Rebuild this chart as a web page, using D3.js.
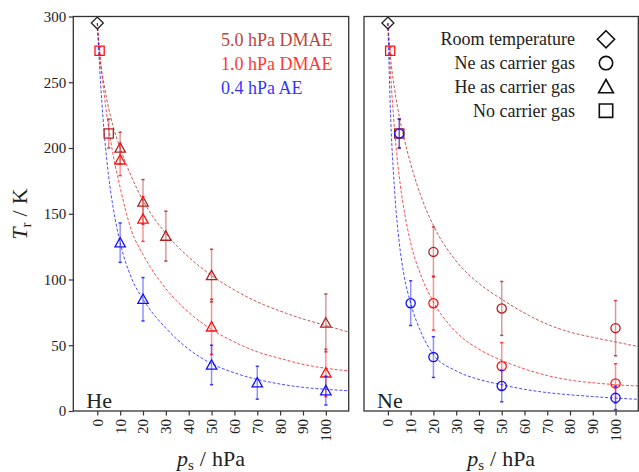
<!DOCTYPE html>
<html>
<head>
<meta charset="utf-8">
<script src="https://cdn.jsdelivr.net/npm/d3@7"></script>
<style>
body { margin: 0; background: #fff; }
text { font-family: "Liberation Serif", "DejaVu Serif", serif; fill: #222; }
</style>
</head>
<body>
<script>
// ---- data ----
// room temperature (both panels)
var roomP = [0];
var roomT = [295];

// no carrier gas (both panels)
var noCarrierP = [1, 5];
var noCarrierT = [274, 211];
var noCarrierE = [3, 11];

// He as carrier gas
var heP_5DMAE = [10, 20, 30, 50, 100];
var heT_5DMAE = [200, 159, 133, 103, 67];
var heE_5DMAE = [12, 17, 19, 20, 22];
var heP_1DMAE = [10, 20, 50, 100];
var heT_1DMAE = [191, 146, 64, 29];
var heE_1DMAE = [12, 17, 21, 18];
var heP_AE = [10, 20, 50, 70, 100];
var heT_AE = [128, 85, 35, 21.5, 15.5];
var heE_AE = [15, 16.5, 15, 12.5, 11];

// Ne as carrier gas
var neP_5DMAE = [20, 50, 100];
var neT_5DMAE = [121, 78, 63];
var neE_5DMAE = [19, 20.5, 21];
var neP_1DMAE = [20, 50, 100];
var neT_1DMAE = [82, 34, 21];
var neE_1DMAE = [20.5, 18, 15];
var neP_AE = [5, 10, 20, 50, 100];
var neT_AE = [211, 82, 41, 19, 10];
var neE_AE = [11, 17, 15.5, 12, 9];

// fitted curves (dashed)
var fitP = [0, 1, 3, 5, 7, 10, 15, 20, 30, 40, 50, 60, 70, 80, 90, 100, 110];
var heFit_5DMAE = [295, 271, 248, 230, 216, 200, 178, 160, 135, 117, 103, 92, 83, 76, 70, 65, 60];
var heFit_1DMAE = [295, 274, 241, 215, 194, 170, 137, 119, 93, 75, 62, 52.5, 45, 40, 35.5, 32.5, 30.5];
var heFit_AE = [295, 262, 212, 178, 154, 128, 101, 85, 63, 47, 36, 29, 24, 20.5, 18, 16.5, 15.4];
var neFit_5DMAE = [295, 272, 244, 224, 208, 188, 161, 141, 114, 97, 85, 74.5, 66, 60, 56, 52.5, 49];
var neFit_1DMAE = [295, 262, 212, 178, 154, 128, 101, 83, 60, 47, 38.5, 32, 27, 23.5, 21.5, 20, 19];
var neFit_AE = [295, 234, 166, 128, 104, 82, 58, 43, 30.5, 24, 20, 16.5, 14, 12.3, 11, 9.8, 8.9];

var xTicks = [0, 10, 20, 30, 40, 50, 60, 70, 80, 90, 100];
var yTicks = [0, 50, 100, 150, 200, 250, 300];

var seriesNames = ["5.0 hPa DMAE", "1.0 hPa DMAE", "0.4 hPa AE"];
var legendNames = ["Room temperature", "Ne as carrier gas", "He as carrier gas", "No carrier gas"];
var legendShapes = ["diamond", "circle", "triangle", "square"];

// ---- styles ----
var colors = { darkred: "#b22222", red: "#ff1010", blue: "#1010ff", black: "#222" };
var W = 639, H = 472;
var plotTop = 16.5, plotBottom = 411;

function markerPath(shape, s) {
	if (shape == "circle")
		return "M" + s + ",0A" + s + "," + s + " 0 1,1 " + (-s) + ",0A" + s + "," + s + " 0 1,1 " + s + ",0Z";
	if (shape == "square")
		return "M" + (-s) + "," + (-s) + "H" + s + "V" + s + "H" + (-s) + "Z";
	if (shape == "triangle")
		return "M0," + (-s) + "L" + s + "," + (s * 0.8) + "L" + (-s) + "," + (s * 0.8) + "Z";
	return "M0," + (-s) + "L" + s + ",0L0," + s + "L" + (-s) + ",0Z";
}
var markerSize = { circle: 4.6, square: 4.6, triangle: 5.2, diamond: 6 };

var svg = d3.select("body")
	.append("svg")
	.attr("width", W)
	.attr("height", H);

var y = d3.scaleLinear().domain([0, 300]).range([plotBottom, plotTop]);

function pts(P, T, E) {
	return P.map(function (p, i) { return { p: p, t: T[i], e: E ? E[i] : 0 }; });
}

function drawPanel(x0, x1, label, groups, fits, id) {
	var x = d3.scaleLinear().domain([-10.5, 110]).range([x0, x1]);
	var g = svg.append("g");

	svg.append("clipPath").attr("id", "clip" + id)
		.append("rect")
		.attr("x", x0).attr("y", plotTop)
		.attr("width", x1 - x0).attr("height", plotBottom - plotTop);

	// fitted curves
	var line = d3.line()
		.x(function (d) { return x(d.p); })
		.y(function (d) { return y(d.t); })
		.curve(d3.curveMonotoneX);
	g.append("g")
		.attr("clip-path", "url(#clip" + id + ")")
		.selectAll("path")
		.data(fits)
		.enter()
		.append("path")
		.attr("d", function (d) { return line(pts(fitP, d.T)); })
		.attr("fill", "none")
		.attr("stroke", function (d) { return colors[d.c]; })
		.attr("stroke-width", 1)
		.attr("stroke-dasharray", "3,1.8")
		.attr("opacity", 0.75);

	// error bars + markers
	groups.forEach(function (s) {
		var data = pts(s.P, s.T, s.E);
		var sg = g.append("g");
		sg.selectAll("line.err")
			.data(data)
			.enter()
			.append("line")
			.attr("class", "err")
			.attr("x1", function (d) { return x(d.p); })
			.attr("x2", function (d) { return x(d.p); })
			.attr("y1", function (d) { return y(d.t - d.e); })
			.attr("y2", function (d) { return y(d.t + d.e); })
			.attr("stroke", colors[s.c])
			.attr("stroke-width", 1.5)
			.attr("opacity", 0.45);
		[-1, 1].forEach(function (k, j) {
			sg.selectAll("line.cap" + j)
				.data(data.filter(function (d) { return d.e > 0; }))
				.enter()
				.append("line")
				.attr("class", "cap" + j)
				.attr("x1", function (d) { return x(d.p) - 1.6; })
				.attr("x2", function (d) { return x(d.p) + 1.6; })
				.attr("y1", function (d) { return y(d.t + k * d.e); })
				.attr("y2", function (d) { return y(d.t + k * d.e); })
				.attr("stroke", colors[s.c])
				.attr("stroke-width", 1.5)
				.attr("opacity", 0.8);
		});
		sg.selectAll("path.mk")
			.data(data)
			.enter()
			.append("path")
			.attr("class", "mk")
			.attr("transform", function (d) { return "translate(" + x(d.p) + "," + y(d.t) + ")"; })
			.attr("d", markerPath(s.shape, markerSize[s.shape]))
			.attr("fill", "none")
			.attr("stroke", colors[s.c])
			.attr("stroke-width", 1.3);
	});

	// frame
	g.append("rect")
		.attr("x", x0).attr("y", plotTop)
		.attr("width", x1 - x0).attr("height", plotBottom - plotTop)
		.attr("fill", "none")
		.attr("stroke", "#333")
		.attr("stroke-width", 1.3);

	// x axis
	var xa = g.append("g")
		.attr("transform", "translate(0," + plotBottom + ")")
		.call(d3.axisBottom(x).tickValues(xTicks).tickSize(4.5).tickSizeOuter(0));
	xa.select(".domain").remove();
	xa.selectAll("line").attr("stroke", "#333").attr("stroke-width", 1.2);
	xa.selectAll("text")
		.attr("transform", "rotate(-90)")
		.attr("text-anchor", "end")
		.attr("x", -8)
		.attr("y", 0)
		.attr("dy", "0.33em")
		.style("font-family", "'Liberation Serif', serif")
		.style("font-size", "15px")
		.attr("fill", "#222");

	// x label
	var xl = g.append("text")
		.attr("x", (x0 + x1) / 2)
		.attr("y", 466)
		.attr("text-anchor", "middle")
		.style("font-size", "22px");
	xl.append("tspan").style("font-style", "italic").text("p");
	xl.append("tspan").attr("dy", 4).style("font-size", "15px").text("s");
	xl.append("tspan").attr("dy", -4).attr("dx", 6).text("/");
	xl.append("tspan").attr("dx", 6).text("hPa");

	// panel label
	g.append("text")
		.attr("x", x0 + 13)
		.attr("y", 408)
		.style("font-size", "22px")
		.text(label);

	return x;
}

// left panel: He
var groupsHe = [
	{ P: heP_5DMAE, T: heT_5DMAE, E: heE_5DMAE, c: "darkred", shape: "triangle" },
	{ P: heP_1DMAE, T: heT_1DMAE, E: heE_1DMAE, c: "red", shape: "triangle" },
	{ P: heP_AE, T: heT_AE, E: heE_AE, c: "blue", shape: "triangle" },
	{ P: [noCarrierP[1]], T: [noCarrierT[1]], E: [noCarrierE[1]], c: "darkred", shape: "square" },
	{ P: [noCarrierP[0]], T: [noCarrierT[0]], E: [noCarrierE[0]], c: "red", shape: "square" },
	{ P: roomP, T: roomT, E: [0], c: "black", shape: "diamond" }
];
var fitsHe = [
	{ T: heFit_5DMAE, c: "darkred" },
	{ T: heFit_1DMAE, c: "red" },
	{ T: heFit_AE, c: "blue" }
];
drawPanel(73.3, 348.7, "He", groupsHe, fitsHe, 0);

// right panel: Ne
var groupsNe = [
	{ P: neP_5DMAE, T: neT_5DMAE, E: neE_5DMAE, c: "darkred", shape: "circle" },
	{ P: neP_1DMAE, T: neT_1DMAE, E: neE_1DMAE, c: "red", shape: "circle" },
	{ P: [noCarrierP[1]], T: [noCarrierT[1]], E: [noCarrierE[1]], c: "darkred", shape: "square" },
	{ P: neP_AE, T: neT_AE, E: neE_AE, c: "blue", shape: "circle" },
	{ P: [noCarrierP[0]], T: [noCarrierT[0]], E: [noCarrierE[0]], c: "red", shape: "square" },
	{ P: roomP, T: roomT, E: [0], c: "black", shape: "diamond" }
];
var fitsNe = [
	{ T: neFit_5DMAE, c: "darkred" },
	{ T: neFit_1DMAE, c: "red" },
	{ T: neFit_AE, c: "blue" }
];
drawPanel(364, 638.3, "Ne", groupsNe, fitsNe, 1);

// y axis (left panel only)
var ya = svg.append("g")
	.attr("transform", "translate(73.3,0)")
	.call(d3.axisLeft(y).tickValues(yTicks).tickSize(4.5).tickSizeOuter(0));
ya.select(".domain").remove();
ya.selectAll("line").attr("stroke", "#333").attr("stroke-width", 1.2);
ya.selectAll("text")
	.attr("x", -7)
	.style("font-family", "'Liberation Serif', serif")
	.style("font-size", "15px")
	.attr("fill", "#222");

var yl = svg.append("text")
	.attr("transform", "translate(27,214) rotate(-90)")
	.attr("text-anchor", "middle")
	.style("font-size", "22px");
yl.append("tspan").style("font-style", "italic").text("T");
yl.append("tspan").attr("dy", 4).style("font-size", "15px").text("r");
yl.append("tspan").attr("dy", -4).attr("dx", 6).text("/");
yl.append("tspan").attr("dx", 6).text("K");

// series legend (left panel)
var seriesColors = ["darkred", "red", "blue"];
svg.selectAll("text.series")
	.data(seriesNames)
	.enter()
	.append("text")
	.attr("class", "series")
	.attr("x", 221)
	.attr("y", function (d, i) { return 45.5 + i * 24; })
	.style("font-size", "18px")
	.style("fill", function (d, i) { return colors[seriesColors[i]]; })
	.attr("opacity", 0.85)
	.text(function (d) { return d; });

// marker legend (right panel)
var legendSize = { diamond: 8.6, circle: 6.7, triangle: 7.4, square: 6.7 };
var lg = svg.selectAll("g.leg")
	.data(legendNames)
	.enter()
	.append("g")
	.attr("class", "leg")
	.attr("transform", function (d, i) { return "translate(0," + (39.3 + i * 23.8) + ")"; });
lg.append("text")
	.attr("x", 575)
	.attr("y", 6)
	.attr("text-anchor", "end")
	.style("font-size", "18px")
	.text(function (d) { return d; });
lg.append("path")
	.attr("transform", "translate(606,0)")
	.attr("d", function (d, i) { return markerPath(legendShapes[i], legendSize[legendShapes[i]]); })
	.attr("fill", "none")
	.attr("stroke", "#111")
	.attr("stroke-width", 1.6);
</script>
</body>
</html>
